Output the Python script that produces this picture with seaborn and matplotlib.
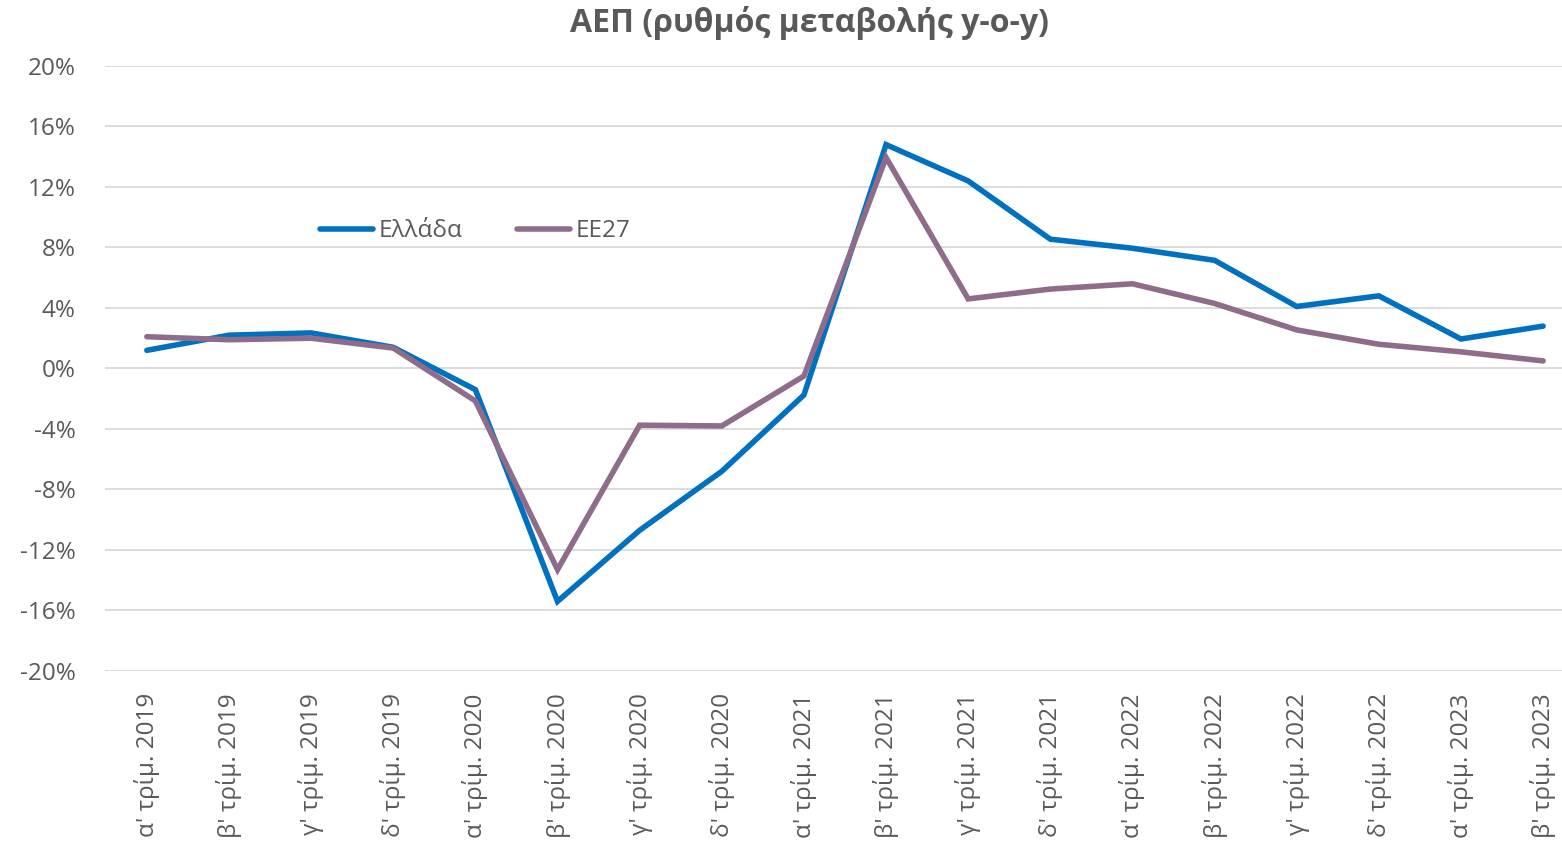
import matplotlib
matplotlib.use("Agg")
import matplotlib.pyplot as plt
import seaborn as sns
import pandas as pd
import numpy as np

quarters = ["α' τρίμ. 2019", "β' τρίμ. 2019", "γ' τρίμ. 2019", "δ' τρίμ. 2019",
            "α' τρίμ. 2020", "β' τρίμ. 2020", "γ' τρίμ. 2020", "δ' τρίμ. 2020",
            "α' τρίμ. 2021", "β' τρίμ. 2021", "γ' τρίμ. 2021", "δ' τρίμ. 2021",
            "α' τρίμ. 2022", "β' τρίμ. 2022", "γ' τρίμ. 2022", "δ' τρίμ. 2022",
            "α' τρίμ. 2023", "β' τρίμ. 2023"]
greece = [1.2, 2.2, 2.35, 1.4, -1.4, -15.4, -10.7, -6.8, -1.75, 14.8, 12.4, 8.55,
          7.95, 7.15, 4.1, 4.8, 1.95, 2.8]
eu27 = [2.1, 1.9, 2.0, 1.35, -2.15, -13.3, -3.75, -3.8, -0.5, 13.95, 4.6, 5.25,
        5.6, 4.3, 2.55, 1.6, 1.1, 0.5]
series_names = ["Ελλάδα", "ΕΕ27"]
colors = ["#0070C0", "#8E6C8A"]
yticks = list(range(-20, 21, 4))

sns.set_theme(style="white")
plt.rcParams['font.family'] = ['Open Sans', 'DejaVu Sans']

df = pd.DataFrame({
    "q": list(range(len(quarters))) * 2,
    "v": greece + eu27,
    "s": [series_names[0]] * len(quarters) + [series_names[1]] * len(quarters),
})

fig = plt.figure(figsize=(15.62, 8.46), dpi=100)
ax = fig.add_axes([0.0672, 0.2069, 0.9328, 0.7151])
sns.lineplot(data=df, x="q", y="v", hue="s", palette=colors, linewidth=4,
             ax=ax, sort=False, legend=True)
for ln in ax.get_lines():
    ln.set_solid_capstyle("round")
    ln.set_solid_joinstyle("miter")

ax.set_xlim(-0.51, 17.23)
ax.set_ylim(-20, 20)
ax.set_yticks(yticks)
ax.set_yticklabels([f"{t}%" for t in yticks])
ax.set_xticks(range(len(quarters)))
ax.set_xticklabels(quarters, rotation=90)
ax.tick_params(axis='both', colors="#595959", length=0)
ax.tick_params(axis='y', pad=21, labelsize=17.5)
ax.tick_params(axis='x', pad=16, labelsize=17.5)
ax.set_xlabel("")
ax.set_ylabel("")
ax.grid(axis='y', color="#D9D9D9", linewidth=1.3)
ax.grid(axis='x', visible=False)
for sp in ax.spines.values():
    sp.set_visible(False)

leg = ax.legend(loc="center", bbox_to_anchor=(0.254, 0.727), ncol=2, frameon=False,
                prop={'size': 17.5},
                handlelength=2.2, handletextpad=0.2, columnspacing=2.25)
for t in leg.get_texts():
    t.set_color("#595959")
for h in leg.get_lines():
    h.set_linewidth(4)
    h.set_solid_capstyle("round")

fig.text(0.518, 0.973, "ΑΕΠ (ρυθμός μεταβολής y-o-y)", ha="center", va="center",
         fontsize=23, fontweight="bold", color="#595959")

fig.savefig("out.png", dpi=100, facecolor="white")
